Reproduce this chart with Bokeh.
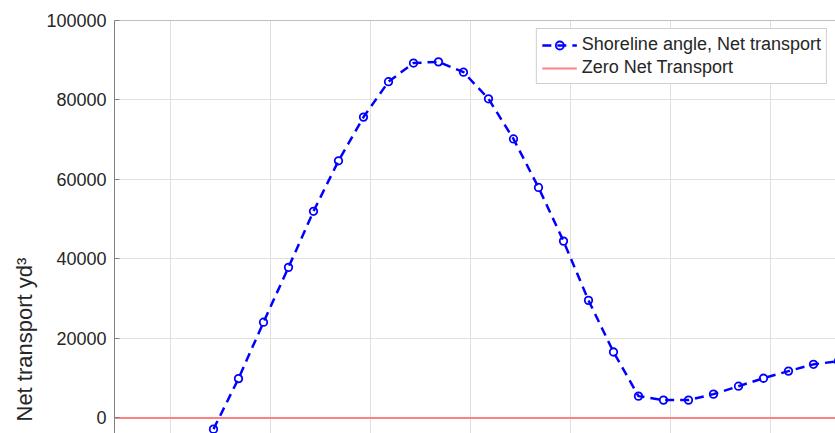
from bokeh.plotting import figure
from bokeh.models import Range1d, FixedTicker, Legend, LegendItem, Span, Title
from bokeh.embed import file_html
from bokeh.resources import INLINE

# Data
shoreline_angle = [4.3, 6.8, 9.3, 11.8, 14.3, 16.8, 19.3, 21.8, 24.3, 26.8,
                   29.3, 31.8, 34.3, 36.8, 39.3, 41.8, 44.3, 46.8, 49.3, 51.8,
                   54.3, 56.8, 59.3, 61.8, 64.3, 66.8]
net_transport = [-2800, 9900, 24100, 37900, 52000, 64700, 75700, 84600, 89300, 89600,
                 87000, 80300, 70200, 58000, 44500, 29600, 16600, 5500, 4500, 4500,
                 6000, 8000, 10000, 11800, 13500, 14300]
zero_x = [-10, 80]
zero_y = [0, 0]
y_ticks = [0, 20000, 40000, 60000, 80000, 100000]
x_grid = [0, 10, 20, 30, 40, 50, 60]

FONT = "Liberation Sans"
TXT = "#262626"

p = figure(width=835, height=433, output_backend="svg", toolbar_location=None,
           x_range=Range1d(-5.6, 66.5), y_range=Range1d(-3900, 100000),
           x_axis_location=None, min_border_left=114, min_border_top=20,
           min_border_bottom=0, min_border_right=0)
p.outline_line_color = None
p.background_fill_color = "white"
p.border_fill_color = "white"

ya = p.yaxis[0]
ya.ticker = FixedTicker(ticks=y_ticks)
ya.major_tick_in = 5
ya.major_tick_out = 0
ya.minor_tick_in = 0
ya.minor_tick_out = 0
ya.axis_line_color = "#808080"
ya.major_tick_line_color = "#808080"
ya.major_label_text_font = FONT
ya.major_label_text_font_size = "18px"
ya.major_label_text_color = TXT
ya.major_label_standoff = 8
ya.formatter.use_scientific = False

p.xgrid.ticker = FixedTicker(ticks=x_grid)
p.ygrid.ticker = FixedTicker(ticks=y_ticks)
p.xgrid.grid_line_color = "#e0e0e0"
p.ygrid.grid_line_color = "#e0e0e0"

# top edge of the axes box
p.add_layout(Span(location=y_ticks[-1], dimension="width",
                  line_color="#808080", line_width=1))

zero = p.line(zero_x, zero_y, line_color="#ff8080", line_width=2)
curve = p.line(shoreline_angle, net_transport, line_color="#0000ff", line_width=2.5,
               line_dash="9 6")
marks = p.scatter(shoreline_angle, net_transport, marker="circle", size=7.5,
                  line_color="#0000ff", line_width=1.8, fill_color=None)

legend = Legend(items=[
    LegendItem(label="Shoreline angle, Net transport", renderers=[curve, marks]),
    LegendItem(label="Zero Net Transport", renderers=[zero]),
], location="top_right")
legend.label_text_font = FONT
legend.label_text_font_size = "18px"
legend.label_text_color = TXT
legend.border_line_color = "#a0a0a0"
legend.border_line_width = 1
legend.background_fill_color = "white"
legend.background_fill_alpha = 1
legend.margin = 8
legend.padding = 5
legend.spacing = 2
legend.glyph_width = 35
legend.glyph_height = 20
legend.label_height = 20
legend.label_standoff = 5
p.add_layout(legend)

ylab = Title(text="Net transport yd\u00b3", align="left", offset=12,
             text_font=FONT, text_font_size="22px", text_font_style="normal",
             text_color=TXT, standoff=14)
p.add_layout(ylab, "left")

open("out.html", "w").write(file_html(p, INLINE))
